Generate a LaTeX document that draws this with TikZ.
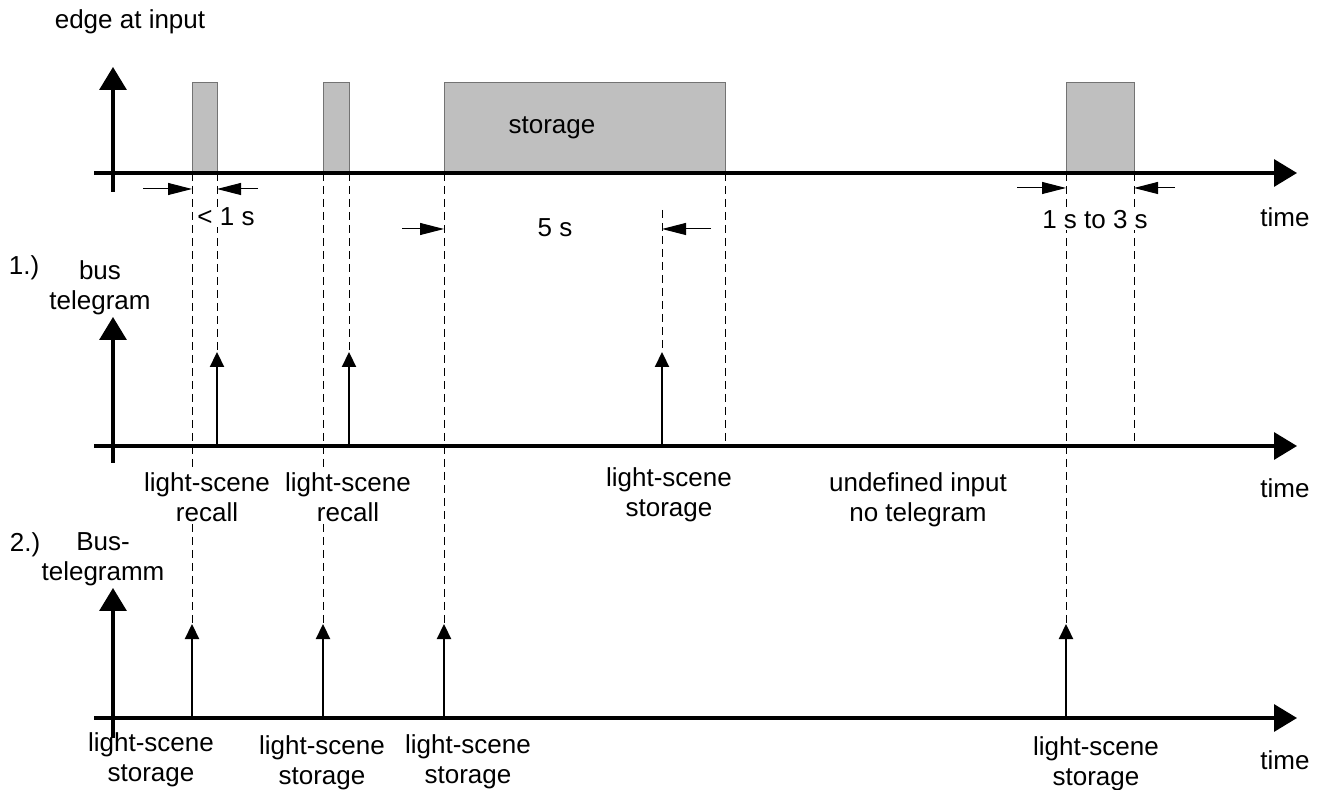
\documentclass[tikz,border=0pt]{standalone}
\usepackage{fontspec}
\setmainfont{Liberation Sans}
\usetikzlibrary{arrows.meta}
\tikzset{
  axis/.style={line width=1.6pt,-{Triangle[length=11.5pt,width=13.5pt]}},
  telegram/.style={line width=1.1pt,-{Triangle[length=7.5pt,width=7pt]}},
  dimarrow/.style={line width=0.5pt,-{Triangle[length=12pt,width=6pt]}},
  guide/.style={line width=0.5pt,dash pattern=on 4pt off 2.5pt},
  pulse/.style={fill=black!25,draw=black!55,line width=0.5pt},
  lbl/.style={font=\fontsize{13}{15}\selectfont,align=center,inner sep=0.5pt,fill=white}
}

\begin{document}
\begin{tikzpicture}[x=0.5pt,y=-0.5pt]
	\useasboundingbox (0,0) rectangle (1317,790);
	% input pulses
	\filldraw[pulse] (192,173) rectangle (217,83)
		(323,173) rectangle (349,83)
		(444,173) rectangle (725,83)
		(1066,173) rectangle (1134,83);
	\node[lbl,fill=none] (store) at (552,128) {storage};
	% guide lines
	\draw[guide] (192,173)--(192,624) (217,173)--(217,352)
		(323,173)--(323,624) (349,173)--(349,352)
		(444,173)--(444,624) (725,173)--(725,446)
		(662,210)--(662,352)
		(1066,173)--(1066,624) (1134,173)--(1134,446);
	% axes
	\draw[axis] (94,173)--(1297,173);
	\draw[axis] (113,192)--(113,67);
	\draw[axis] (94,446)--(1297,446);
	\draw[axis] (113,463)--(113,317);
	\draw[axis] (94,718)--(1297,718);
	\draw[axis] (113,738)--(113,588);
	% durations
	\draw[dimarrow] (143,189)--(192,189);
	\draw[dimarrow] (258,189)--(217,189);
	\draw[dimarrow] (402,229)--(444,229);
	\draw[dimarrow] (711,229)--(662,229);
	\draw[dimarrow] (1017,188)--(1066,188);
	\draw[dimarrow] (1175,188)--(1134,188);
	\node[lbl] (lt1) at (226,217) {< 1 s};
	\node[lbl] (lt5) at (555,228) {5 s};
	\node[lbl] (lt13) at (1095,220) {1 s to 3 s};
	% telegrams
	\draw[telegram] (217,446)--(217,352);
	\draw[telegram] (349,446)--(349,352);
	\draw[telegram] (662,446)--(662,352);
	\draw[telegram] (192,718)--(192,624);
	\draw[telegram] (323,718)--(323,624);
	\draw[telegram] (444,718)--(444,624);
	\draw[telegram] (1066,718)--(1066,624);
	% texts
	\node[lbl] (edge) at (130,22) {edge at input};
	\node[lbl,anchor=west] (time0) at (1259,217) {time};
	\node[lbl,anchor=west] (time1) at (1259,488) {time};
	\node[lbl,anchor=west] (time2) at (1259,760) {time};
	\node[lbl] (case1) at (24,268) {1.)};
	\node[lbl] (bus1) at (100,288) {bus\\telegram};
	\node[lbl] (case2) at (25,545) {2.)};
	\node[lbl] (bus2) at (103,559) {Bus-\\telegramm};
	\node[lbl] (rc1) at (207,497) {light-scene\\recall};
	\node[lbl] (rc2) at (348,497) {light-scene\\recall};
	\node[lbl] (st1) at (669,495) {light-scene\\storage};
	\node[lbl] (undef) at (918,500) {undefined input\\no telegram};
	\node[lbl,fill=none] (st2) at (151,760) {light-scene\\storage};
	\node[lbl] (st3) at (322,763) {light-scene\\storage};
	\node[lbl] (st4) at (468,762) {light-scene\\storage};
	\node[lbl] (st5) at (1096,764) {light-scene\\storage};
\end{tikzpicture}
\end{document}
